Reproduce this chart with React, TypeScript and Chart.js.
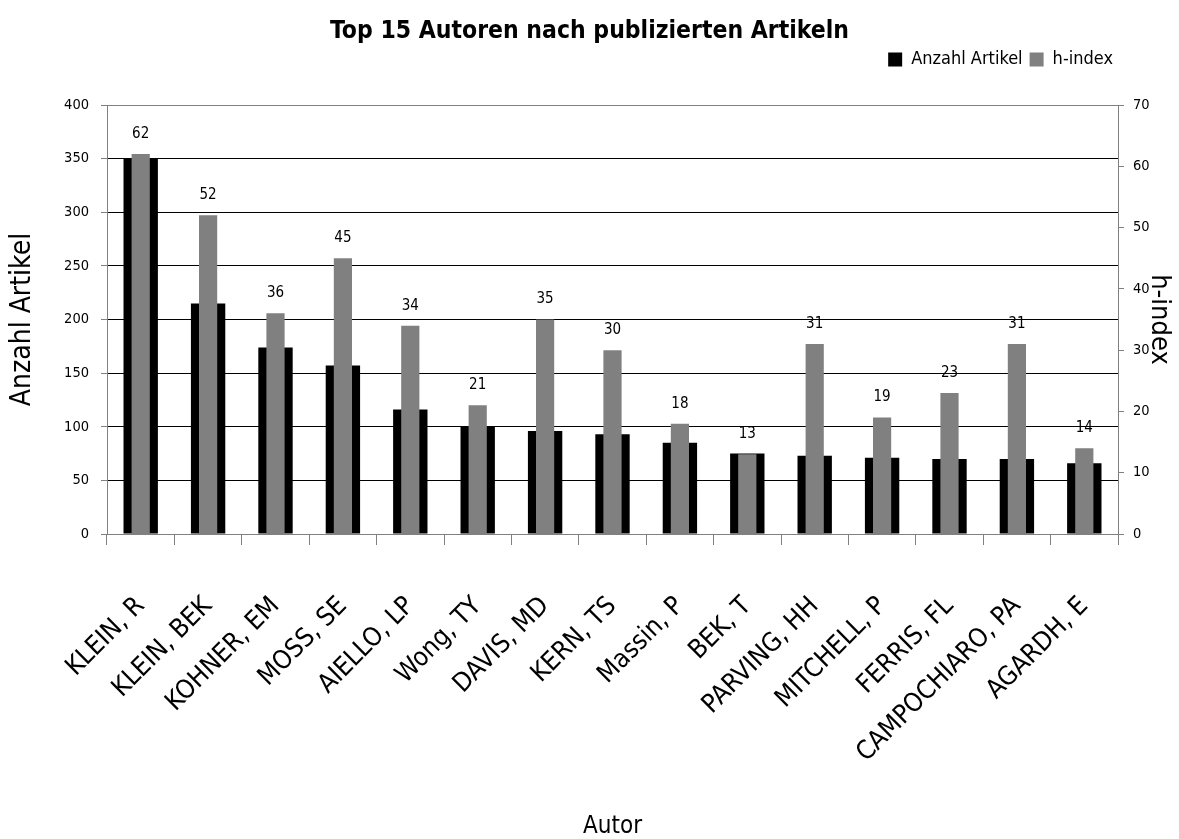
import React, { useEffect, useRef } from "react";
import { Chart, registerables } from "chart.js";

Chart.register(...registerables);

const authors = [
  "KLEIN, R",
  "KLEIN, BEK",
  "KOHNER, EM",
  "MOSS, SE",
  "AIELLO, LP",
  "Wong, TY",
  "DAVIS, MD",
  "KERN, TS",
  "Massin, P",
  "BEK, T",
  "PARVING, HH",
  "MITCHELL, P",
  "FERRIS, FL",
  "CAMPOCHIARO, PA",
  "AGARDH, E",
];

const articleCounts = [350, 215, 174, 157, 116, 100, 96, 93, 85, 75, 73, 71, 70, 70, 66];
const hIndex = [62, 52, 36, 45, 34, 21, 35, 30, 18, 13, 31, 19, 23, 31, 14];

const titleText = "Top 15 Autoren nach publizierten Artikeln";
const seriesNames = ["Anzahl Artikel", "h-index"];
const leftAxisTitle = "Anzahl Artikel";
const rightAxisTitle = "h-index";
const xAxisTitle = "Autor";

const FONT = "'DejaVu Sans Condensed', 'Liberation Sans', sans-serif";

const valueLabels = {
  id: "valueLabels",
  afterLayout(chart: any) {
    const lg = chart.legend;
    if (lg) {
      lg.left -= 59;
      lg.right -= 59;
    }
  },
  afterDatasetsDraw(chart: any) {
    const meta = chart.getDatasetMeta(1);
    const ds = chart.data.datasets[1];
    const ctx = chart.ctx;
    ctx.save();
    ctx.font = `15px ${FONT}`;
    ctx.fillStyle = "#000";
    ctx.textAlign = "center";
    ctx.textBaseline = "middle";
    meta.data.forEach((el: any, i: number) => {
      ctx.fillText(String(ds.data[i]), el.x, el.y - 20);
    });
    ctx.restore();
  },
};

export default function App() {
  const ref = useRef<HTMLCanvasElement>(null);

  useEffect(() => {
    if (!ref.current) return;
    Chart.defaults.font.family = FONT;
    Chart.defaults.color = "#000";
    const chart = new Chart(ref.current, {
      type: "bar",
      data: {
        labels: authors,
        datasets: [
          {
            label: seriesNames[0],
            data: articleCounts,
            backgroundColor: "#000000",
            yAxisID: "y",
            grouped: false,
            order: 1,
            barPercentage: 0.51,
            categoryPercentage: 1,
          },
          {
            label: seriesNames[1],
            data: hIndex,
            backgroundColor: "#808080",
            yAxisID: "y1",
            grouped: false,
            order: 0,
            barPercentage: 0.27,
            categoryPercentage: 1,
          },
        ],
      },
      options: {
        responsive: false,
        animation: false,
        devicePixelRatio: 1,
        layout: { padding: 0 },
        plugins: {
          title: {
            display: true,
            text: titleText,
            font: { size: 24.5, weight: "bold", family: FONT, lineHeight: 1 },
            color: "#000",
            padding: { top: 19, bottom: 0 },
          },
          legend: {
            display: true,
            position: "top",
            align: "end",
            weight: 1600,
            labels: {
              boxWidth: 14,
              boxHeight: 14,
              padding: 7,
              font: { size: 18, family: FONT },
              color: "#000",
              sort: (a: any, b: any) => a.datasetIndex - b.datasetIndex,
            },
          },
          subtitle: {
            display: true,
            text: "",
            font: { size: 1, lineHeight: 1 },
            padding: { top: 0, bottom: 25.5 },
          },
          tooltip: { enabled: false },
        },
        scales: {
          x: {
            offset: true,
            grid: {
              offset: true,
              drawOnChartArea: false,
              drawTicks: true,
              tickLength: 11,
              tickColor: "#808080",
            },
            border: { color: "#808080", width: 1 },
            ticks: {
              autoSkip: false,
              minRotation: 45,
              maxRotation: 45,
              padding: 46,
              font: { size: 26, family: FONT },
              color: "#000",
            },
            title: {
              display: true,
              text: xAxisTitle,
              font: { size: 24, family: FONT, lineHeight: 1 },
              padding: { top: 0, bottom: 0 },
              color: "#000",
            },
            afterFit: (s: any) => {
              s.height = 305;
            },
          },
          y: {
            position: "left",
            min: 0,
            max: 400,
            ticks: {
              stepSize: 50,
              padding: 12,
              font: { size: 14.5, family: FONT },
              color: "#000",
            },
            grid: {
              color: (c: any) =>
                c.tick && (c.tick.value === 400 || c.tick.value === 0) ? "#808080" : "#000000",
              lineWidth: 1,
              tickLength: 6,
              tickColor: "#808080",
            },
            border: { color: "#808080", width: 1 },
            title: {
              display: true,
              text: leftAxisTitle,
              font: { size: 28, family: FONT, lineHeight: 1.2 },
              padding: { top: 6, bottom: 0 },
              color: "#000",
            },
            afterFit: (s: any) => {
              s.width = 107;
            },
          },
          y1: {
            position: "right",
            min: 0,
            max: 70,
            ticks: {
              stepSize: 10,
              padding: 9,
              font: { size: 14.5, family: FONT },
              color: "#000",
            },
            grid: {
              drawOnChartArea: false,
              tickLength: 6,
              tickColor: "#808080",
            },
            border: { color: "#808080", width: 1 },
            title: {
              display: true,
              text: rightAxisTitle,
              font: { size: 27, family: FONT, lineHeight: 1.2 },
              padding: { top: 4, bottom: 0 },
              color: "#000",
            },
            afterFit: (s: any) => {
              s.width = 61;
            },
          },
        },
      },
      plugins: [valueLabels],
    } as any);
    return () => chart.destroy();
  }, []);

  return (
    <div style={{ position: "absolute", left: 0, top: 0, width: 1179, height: 839, background: "#fff" }}>
      <canvas ref={ref} width={1179} height={839} style={{ display: "block" }} />
    </div>
  );
}
